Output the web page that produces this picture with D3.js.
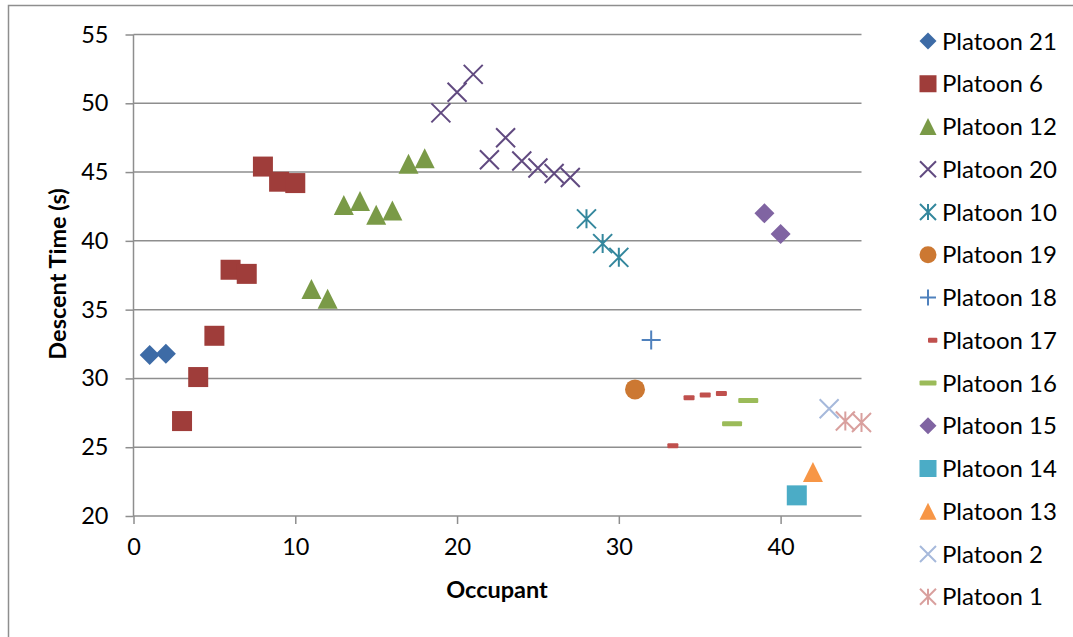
<!DOCTYPE html>
<html>
<head>
<meta charset="utf-8">
<script src="https://cdn.jsdelivr.net/npm/d3@7"></script>
<style>
  html, body { margin: 0; padding: 0; background: #fff; }
  svg { display: block; }
  text { font-family: Lato, "Open Sans", sans-serif; fill: #000; }
</style>
</head>
<body>
<svg id="chart" width="1073" height="637"></svg>
<script>
// ---- data: occupant number and descent time (s) per platoon ----
const platoon21 = [[1, 31.7], [2, 31.8]];
const platoon6  = [[3, 26.9], [4, 30.1], [5, 33.1], [6, 37.9], [7, 37.6], [8, 45.4], [9, 44.3], [10, 44.2]];
const platoon12 = [[11, 36.5], [12, 35.8], [13, 42.6], [14, 42.9], [15, 41.9], [16, 42.2], [17, 45.6], [18, 46.0]];
const platoon20 = [[19, 49.3], [20, 50.8], [21, 52.1], [22, 45.9], [23, 47.5], [24, 45.8], [25, 45.3], [26, 44.9], [27, 44.6]];
const platoon10 = [[28, 41.6], [29, 39.8], [30, 38.8]];
const platoon19 = [[31, 29.2]];
const platoon18 = [[32, 32.8]];
const platoon17 = [[33, 25.1], [34, 28.6], [35, 28.8], [36, 28.9]];
const platoon16 = [[37, 26.7], [38, 28.4]];
const platoon15 = [[39, 42.0], [40, 40.5]];
const platoon14 = [[41, 21.5]];
const platoon13 = [[42, 23.2]];
const platoon2  = [[43, 27.8]];
const platoon1  = [[44, 26.9], [45, 26.8]];

const seriesNames = ["Platoon 21", "Platoon 6", "Platoon 12", "Platoon 20", "Platoon 10", "Platoon 19", "Platoon 18",
                     "Platoon 17", "Platoon 16", "Platoon 15", "Platoon 14", "Platoon 13", "Platoon 2", "Platoon 1"];
const seriesValues = [platoon21, platoon6, platoon12, platoon20, platoon10, platoon19, platoon18,
                      platoon17, platoon16, platoon15, platoon14, platoon13, platoon2, platoon1];

const xTicks = [0, 10, 20, 30, 40];
const yTicks = [20, 25, 30, 35, 40, 45, 50, 55];

// ---- marker style per series ----
const markerShapes = ["diamond", "square", "triangle", "cross", "star", "circle", "plus",
                      "shortdash", "longdash", "diamond", "square", "triangle", "cross", "star"];
const markerColors = ["#3d6ba6", "#9f3d3a", "#7a9a47", "#614a80", "#34879d", "#cc7832", "#4f81bd",
                      "#c0504d", "#9bbb59", "#8064a2", "#4bacc6", "#f79646", "#a6b9db", "#d9a09e"];

const series = seriesNames.map((name, i) => ({
  name, values: seriesValues[i], shape: markerShapes[i], color: markerColors[i]
}));

// ---- layout ----
const svg = d3.select("#chart");
const plot = { left: 133.5, right: 861.5, top: 34.5, bottom: 516 };

const x = d3.scaleLinear().domain([0, 45]).range([plot.left, plot.right]);
const y = d3.scaleLinear().domain([20, 55]).range([plot.bottom, plot.top]);

const gridColor = "#8e8e8e";
const tickFont = 23.5;
const titleFont = 23.5;

// chart area frame
svg.append("rect")
  .attr("x", 8.5).attr("y", 5.5).attr("width", 1200).attr("height", 800)
  .attr("fill", "none").attr("stroke", gridColor).attr("stroke-width", 1.5);

// horizontal gridlines
svg.append("g").selectAll("line").data(yTicks.filter(v => v !== 20)).join("line")
  .attr("x1", plot.left).attr("x2", plot.right)
  .attr("y1", d => y(d)).attr("y2", d => y(d))
  .attr("stroke", gridColor).attr("stroke-width", 1.5);

// y axis
const yAxis = svg.append("g")
  .attr("transform", `translate(${plot.left},0)`)
  .call(d3.axisLeft(y).tickValues(yTicks).tickSize(8).tickPadding(17).tickFormat(d3.format("d")));
// x axis
const xAxis = svg.append("g")
  .attr("transform", `translate(0,${plot.bottom})`)
  .call(d3.axisBottom(x).tickValues(xTicks).tickSize(8).tickPadding(14).tickFormat(d3.format("d")));

[yAxis, xAxis].forEach(g => {
  g.select(".domain").attr("stroke", gridColor).attr("stroke-width", 1.5);
  g.selectAll(".tick line").attr("stroke", gridColor).attr("stroke-width", 1.5);
  g.selectAll(".tick text").attr("font-family", "Lato, 'Open Sans', sans-serif")
    .attr("font-size", tickFont).attr("fill", "#000");
});
// axis lines span the full plot area
xAxis.select(".domain").attr("d", `M${plot.left},0H${plot.right}`);
yAxis.select(".domain").attr("d", `M0,${plot.bottom}V${plot.top}`);

// axis titles
svg.append("text")
  .attr("x", 497).attr("y", 598)
  .attr("text-anchor", "middle").attr("font-weight", "bold").attr("font-size", titleFont)
  .text("Occupant");
svg.append("text")
  .attr("transform", "translate(66,274) rotate(-90)")
  .attr("text-anchor", "middle").attr("font-weight", "bold").attr("font-size", titleFont)
  .text("Descent Time (s)");

// ---- marker drawing ----
function drawMarker(g, shape, color, s) {
  // s = full marker size in px
  const h = s / 2;
  switch (shape) {
    case "diamond":
      g.append("path").attr("d", `M0,${-h}L${h},0L0,${h}L${-h},0Z`).attr("fill", color);
      break;
    case "square":
      g.append("rect").attr("x", -h).attr("y", -h).attr("width", s).attr("height", s).attr("fill", color);
      break;
    case "triangle":
      g.append("path").attr("d", `M0,${-h}L${h},${h}L${-h},${h}Z`).attr("fill", color);
      break;
    case "circle":
      g.append("circle").attr("r", h).attr("fill", color);
      break;
    case "cross":
      g.append("path").attr("d", `M${-h},${-h}L${h},${h}M${h},${-h}L${-h},${h}`)
        .attr("stroke", color).attr("stroke-width", 2).attr("fill", "none");
      break;
    case "star":
      g.append("path").attr("d", `M${-h},${-h}L${h},${h}M${h},${-h}L${-h},${h}M0,${-h}L0,${h}`)
        .attr("stroke", color).attr("stroke-width", 2).attr("fill", "none");
      break;
    case "plus":
      g.append("path").attr("d", `M${-h},0L${h},0M0,${-h}L0,${h}`)
        .attr("stroke", color).attr("stroke-width", 2).attr("fill", "none");
      break;
    case "shortdash":
      g.append("rect").attr("x", 0).attr("y", -2.5).attr("width", s * 0.55).attr("height", 5)
        .attr("rx", 1).attr("fill", color);
      break;
    case "longdash":
      g.append("rect").attr("x", -h).attr("y", -2.5).attr("width", s).attr("height", 5)
        .attr("rx", 1).attr("fill", color);
      break;
  }
}

const isLineMarker = shape => shape === "cross" || shape === "star" || shape === "plus";

// points
const pts = svg.append("g");
series.forEach(sr => {
  sr.values.forEach(([ox, t]) => {
    const g = pts.append("g").attr("transform", `translate(${x(ox)},${y(t)})`);
    drawMarker(g, sr.shape, sr.color, isLineMarker(sr.shape) ? 19 : 20);
  });
});

// ---- legend ----
const legend = svg.append("g").attr("transform", "translate(928,41)");
const legendStep = 42.75;
series.forEach((sr, i) => {
  const row = legend.append("g").attr("transform", `translate(0,${i * legendStep})`);
  const m = row.append("g");
  drawMarker(m, sr.shape, sr.color, isLineMarker(sr.shape) ? 16 : 17);
  row.append("text").attr("x", 14).attr("y", 0).attr("dy", "0.36em")
    .attr("font-size", 24).text(sr.name);
});
</script>
</body>
</html>
